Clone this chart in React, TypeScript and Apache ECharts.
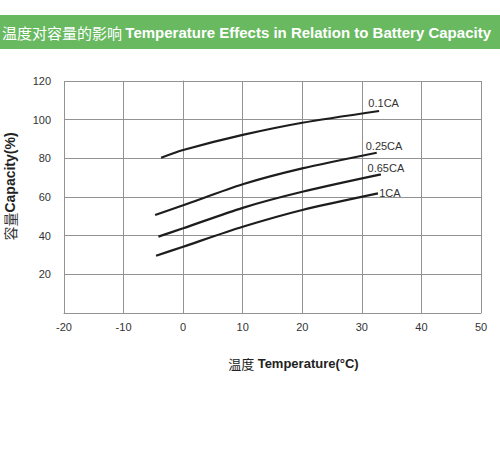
import React, { useEffect, useRef } from "react";
import * as echarts from "echarts";

const TITLE_CN = "温度对容量的影响";
const TITLE_EN = "Temperature Effects in Relation to Battery Capacity";
const X_NAME_CN = "温度";
const X_NAME_EN = "Temperature(°C)";
const Y_NAME_CN = "容量";
const Y_NAME_EN = "Capacity(%)";

const X_MIN = -20;
const X_MAX = 50;
const X_STEP = 10;
const Y_MIN = 0;
const Y_MAX = 120;
const Y_STEP = 20;

const seriesNames = ["0.1CA", "0.25CA", "0.65CA", "1CA"];

const temp01 = [-3.7, 0, 10, 20, 32.9];
const cap01 = [80.3, 84.3, 92.1, 98.4, 104.5];

const temp025 = [-4.7, 0, 10, 20, 32.5];
const cap025 = [50.7, 55.7, 66.6, 74.8, 82.9];

const temp065 = [-4.15, 0, 10, 20, 33.2];
const cap065 = [39.5, 43.8, 54.4, 62.7, 71.7];

const temp1 = [-4.55, 0, 10, 20, 32.7];
const cap1 = [29.6, 34.3, 44.6, 53.3, 61.9];

const temps = [temp01, temp025, temp065, temp1];
const caps = [cap01, cap025, cap065, cap1];

const LABEL_OFFSETS = [
  [4.5, -7.7],
  [7.3, -6.7],
  [5, -6],
  [12, 0],
];

export default function App() {
  const ref = useRef<HTMLDivElement>(null);

  useEffect(() => {
    if (!ref.current) return;
    const chart = echarts.init(ref.current, null, { renderer: "svg" });
    const gridColor = "#939393";
    const font = "Arial, 'Liberation Sans', sans-serif";

    const series = seriesNames.map((name, i) => {
      const xs = temps[i];
      const ys = caps[i];
      const data = xs.map((x, j) => [x, ys[j]]);
      const last = data[data.length - 1];
      return {
        name,
        type: "line",
        data,
        smooth: 0.25,
        symbol: "none",
        lineStyle: { color: "#1d1d1d", width: 2.2 },
        markPoint: {
          symbol: "circle",
          symbolSize: 1,
          itemStyle: { color: "rgba(0,0,0,0)" },
          label: {
            show: true,
            position: "inside",
            formatter: name,
            color: "#333",
            fontSize: 11,
            fontFamily: font,
            offset: LABEL_OFFSETS[i],
          },
          data: [{ coord: last, value: name }],
        },
      };
    });

    chart.setOption({
      animation: false,
      backgroundColor: "#fff",
      grid: { left: 64, right: 19, top: 81, bottom: 137, containLabel: false },
      xAxis: {
        type: "value",
        min: X_MIN,
        max: X_MAX,
        interval: X_STEP,
        axisLine: { show: true, lineStyle: { color: gridColor, width: 1 } },
        axisTick: { show: false },
        splitLine: { show: true, lineStyle: { color: gridColor, width: 1 } },
        axisLabel: {
          color: "#333",
          fontSize: 11,
          fontFamily: font,
          margin: 8,
        },
      },
      yAxis: {
        type: "value",
        min: Y_MIN,
        max: Y_MAX,
        interval: Y_STEP,
        axisLine: { show: true, lineStyle: { color: gridColor, width: 1 } },
        axisTick: { show: false },
        splitLine: { show: true, lineStyle: { color: gridColor, width: 1 } },
        axisLabel: {
          color: "#333",
          fontSize: 11,
          fontFamily: font,
          margin: 13,
          formatter: (v: number) => (v === 0 ? "" : String(v)),
        },
      },
      graphic: [
        {
          type: "rect",
          shape: { x: 0, y: 15, width: 500, height: 34 },
          style: { fill: "#68b95f" },
          silent: true,
        },
        {
          type: "text",
          x: 2,
          y: 32,
          style: {
            text: `{cn|${TITLE_CN}} {en|${TITLE_EN}}`,
            verticalAlign: "middle",
            align: "left",
            fill: "#fff",
            rich: {
              cn: {
                fontFamily: "'Noto Sans CJK SC', sans-serif",
                fontSize: 15,
                fill: "#fff",
                fontWeight: "normal",
              },
              en: {
                fontFamily: font,
                fontSize: 15,
                fontWeight: "bold",
                fill: "#fff",
              },
            },
          },
        },
        {
          type: "text",
          x: 293.5,
          y: 363.5,
          style: {
            text: `{cn|${X_NAME_CN}} {en|${X_NAME_EN}}`,
            align: "center",
            verticalAlign: "middle",
            rich: {
              cn: {
                fontFamily: "'Noto Sans CJK SC', sans-serif",
                fontSize: 13,
                fill: "#222",
              },
              en: {
                fontFamily: font,
                fontSize: 13,
                fontWeight: "bold",
                fill: "#222",
              },
            },
          },
        },
        {
          type: "text",
          x: 10,
          y: 186.5,
          rotation: Math.PI / 2,
          style: {
            text: `{cn|${Y_NAME_CN}}{en|${Y_NAME_EN}}`,
            align: "center",
            verticalAlign: "middle",
            rich: {
              cn: {
                fontFamily: "'Noto Sans CJK SC', sans-serif",
                fontSize: 14,
                fill: "#333",
              },
              en: {
                fontFamily: font,
                fontSize: 14,
                fontWeight: "bold",
                fill: "#222",
              },
            },
          },
        },
      ],
      series,
    });

    return () => {
      chart.dispose();
    };
  }, []);

  return (
    <div
      ref={ref}
      style={{
        position: "absolute",
        left: 0,
        top: 0,
        width: 500,
        height: 450,
        background: "#fff",
      }}
    />
  );
}
